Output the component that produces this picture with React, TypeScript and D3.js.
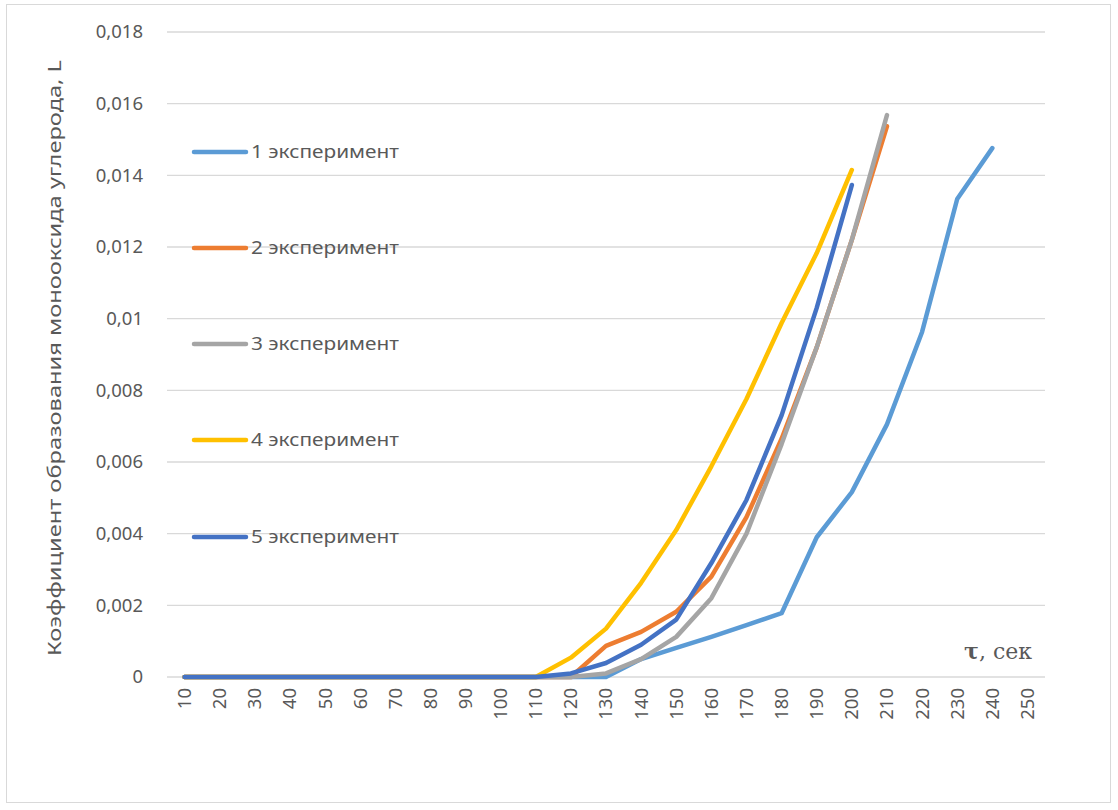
import React from "react";
import * as d3 from "d3";

const categories = [10,20,30,40,50,60,70,80,90,100,110,120,130,140,150,160,170,180,190,200,210,220,230,240,250];
const seriesNames = ["1 эксперимент","2 эксперимент","3 эксперимент","4 эксперимент","5 эксперимент"];
const seriesColors = ["#5B9BD5","#ED7D31","#A5A5A5","#FFC000","#4472C4"];
const s1 = [0,0,0,0,0,0,0,0,0,0,0,0,0,0.0005,0.00081,0.00112,0.00145,0.00178,0.0039,0.00516,0.00705,0.00963,0.01334,0.01476];
const s2 = [0,0,0,0,0,0,0,0,0,0,0,0,0.00087,0.00126,0.00182,0.0028,0.00446,0.00665,0.0092,0.0122,0.01537];
const s3 = [0,0,0,0,0,0,0,0,0,0,0,0,0.0001,0.0005,0.00112,0.0022,0.004,0.0065,0.0092,0.0122,0.01568];
const s4 = [0,0,0,0,0,0,0,0,0,0,0,0.00054,0.00135,0.00263,0.0041,0.00588,0.00776,0.00988,0.01183,0.01415];
const s5 = [0,0,0,0,0,0,0,0,0,0,0,0.0001,0.00039,0.0009,0.0016,0.00318,0.00494,0.0073,0.0103,0.01373];
const yTicks = [0,0.002,0.004,0.006,0.008,0.01,0.012,0.014,0.016,0.018];
const yLabel = "Коэффициент образования монооксида углерода, L";

const seriesValues = [s1, s2, s3, s4, s5];

export default function App() {
  const W = 1118, H = 810;
  const left = 167, right = 1045, top = 32, bottom = 677;
  const x = d3.scaleBand<number>().domain(categories).range([left, right]);
  const y = d3.scaleLinear().domain([0, 0.018]).range([bottom, top]);
  const cx = (c: number) => (x(c) as number) + x.bandwidth() / 2;
  const line = d3.line<number>().x((_, i) => cx(categories[i])).y((v) => y(v));
  const font = "'Noto Sans', 'Open Sans', sans-serif";
  const textColor = "#595959";
  const fmt = (v: number) => (v === 0 ? "0" : String(v).replace(".", ","));
  const legendY = [152, 248, 344, 440, 537];

  return (
    <svg width={W} height={H} style={{ position: "absolute", left: 0, top: 0, background: "#fff" }}>
      <rect x={6.5} y={4.5} width={1104} height={798} fill="#fff" stroke="#D9D9D9" strokeWidth={1} />
      {yTicks.map((t) => (
        <g key={t}>
          <line x1={left} x2={right} y1={y(t)} y2={y(t)} stroke="#D9D9D9" strokeWidth={1.3} />
          <text x={143} y={y(t)} dy="0.35em" textAnchor="end" fontFamily={font} fontSize={18.5} fill={textColor}>
            {fmt(t)}
          </text>
        </g>
      ))}
      {categories.map((c) => (
        <text
          key={c}
          transform={`translate(${cx(c)},${688}) rotate(-90)`}
          textAnchor="end"
          dy="0.35em"
          fontFamily={font}
          fontSize={18.5}
          fill={textColor}
        >
          {c}
        </text>
      ))}
      <text
        transform={`translate(${55},${358}) rotate(-90)`}
        textAnchor="middle"
        dy="0.35em"
        fontFamily={font}
        fontSize={18.5}
        fill={textColor}
        textLength={596}
        lengthAdjust="spacingAndGlyphs"
      >
        {yLabel}
      </text>
      <text x={1032} y={659} textAnchor="end" fontFamily="'DejaVu Serif', 'Liberation Serif', serif" fontSize={22} fill={textColor}>
        <tspan fontWeight="bold">τ</tspan>, сек
      </text>
      {seriesValues.map((vals, i) => (
        <path
          key={i}
          d={line(vals) || ""}
          fill="none"
          stroke={seriesColors[i]}
          strokeWidth={4.5}
          strokeLinejoin="round"
          strokeLinecap="round"
        />
      ))}
      {seriesNames.map((n, i) => (
        <g key={n}>
          <line x1={194} x2={246} y1={legendY[i]} y2={legendY[i]} stroke={seriesColors[i]} strokeWidth={4.5} strokeLinecap="round" />
          <text
            x={251}
            y={legendY[i]}
            dy="0.35em"
            fontFamily={font}
            fontSize={18.5}
            fill={textColor}
            textLength={148}
            lengthAdjust="spacingAndGlyphs"
          >
            {n}
          </text>
        </g>
      ))}
    </svg>
  );
}
